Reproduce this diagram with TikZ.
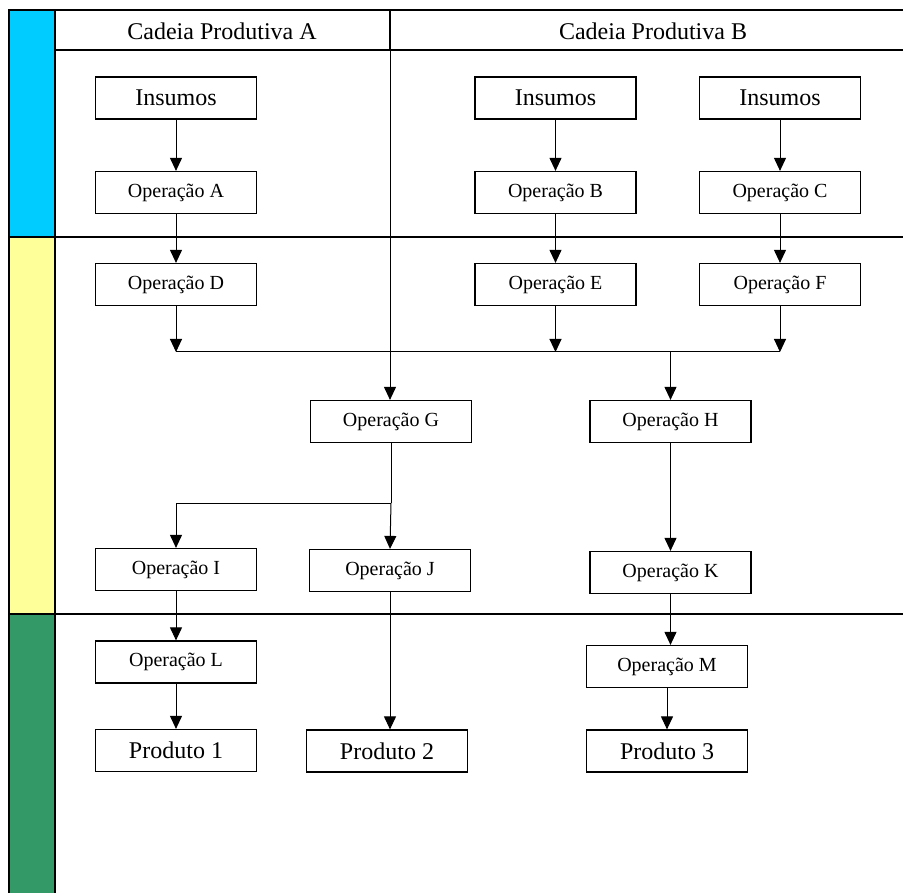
\documentclass[tikz,border=0pt]{standalone}
\usepackage{fontspec}
\setmainfont{Liberation Serif}
\usetikzlibrary{arrows.meta}
\definecolor{faseazul}{HTML}{00CCFF}
\definecolor{faseamarela}{HTML}{FFFF99}
\definecolor{faseverde}{HTML}{339966}
\begin{document}
\begin{tikzpicture}[x=1pt,y=-1pt,>={Triangle[length=13pt,width=12pt]},
        caixa/.style={draw, line width=1.2pt, fill=white, minimum width=161pt, minimum height=42pt, inner sep=0pt, font=\fontsize{24}{28}\selectfont},
        oper/.style={caixa, font=\fontsize{20}{24}\selectfont},
        seta/.style={->, line width=1pt}]
        \useasboundingbox (0,0) rectangle (903,893);
        % faixas laterais e grade
        \filldraw[fill=faseazul, line width=1.2pt] (9,10) rectangle (55,237);
        \filldraw[fill=faseamarela, line width=1.2pt] (9,237) rectangle (55,614);
        \filldraw[fill=faseverde, line width=1.2pt] (9,614) rectangle (55,900);
        \draw[line width=1.2pt] (9,10) -- (903,10);
        \draw[line width=1.2pt] (55,50) -- (903,50);
        \draw[line width=1.2pt] (55,237) -- (903,237);
        \draw[line width=1.2pt] (55,614) -- (903,614);
        \draw[line width=1.5pt] (390,10) -- (390,50);
        \node[font=\fontsize{24}{28}\selectfont] (cadA) at (222,31) {Cadeia Produtiva A};
        \node[font=\fontsize{24}{28}\selectfont] (cadB) at (653,31) {Cadeia Produtiva B};
        \coordinate (hdr) at (390,50);
        \coordinate (bus) at (0,352);
        \coordinate (split) at (0,503);

        % caixas
        \node[caixa] (insA) at (176,98) {Insumos};
        \node[caixa] (insB) at (555.5,98) {Insumos};
        \node[caixa] (insC) at (780,98) {Insumos};
        \node[oper] (opA) at (176,192.5) {Operação A};
        \node[oper] (opB) at (555.5,192.5) {Operação B};
        \node[oper] (opC) at (780,192.5) {Operação C};
        \node[oper] (opD) at (176,284.5) {Operação D};
        \node[oper] (opE) at (555.5,284.5) {Operação E};
        \node[oper] (opF) at (780,284.5) {Operação F};
        \node[oper] (opG) at (391,421.5) {Operação G};
        \node[oper] (opH) at (670.5,421.5) {Operação H};
        \node[oper] (opI) at (176,569.5) {Operação I};
        \node[oper] (opJ) at (390,570.5) {Operação J};
        \node[oper] (opK) at (670.5,572.5) {Operação K};
        \node[oper] (opL) at (176,662) {Operação L};
        \node[oper] (opM) at (667,666.5) {Operação M};
        \node[caixa] (prod1) at (176,750.5) {Produto 1};
        \node[caixa] (prod2) at (387,751) {Produto 2};
        \node[caixa] (prod3) at (667,751) {Produto 3};

        % ligacoes
        \draw[seta] (insA) -- (opA);
        \draw[seta] (insB) -- (opB);
        \draw[seta] (insC) -- (opC);
        \draw[seta] (opA) -- (opD);
        \draw[seta] (opB) -- (opE);
        \draw[seta] (opC) -- (opF);
        \draw[seta] (opD.south) -- (opD.south |- bus);
        \draw[seta] (opE.south) -- (opE.south |- bus);
        \draw[seta] (opF.south) -- (opF.south |- bus);
        \draw[line width=1pt] (opD.south |- bus) -- (opF.south |- bus);
        \draw[seta] (opH.north |- bus) -- (opH.north);
        \draw[seta] (hdr) -- (hdr |- opG.north);
        \draw[line width=1pt] (opG.south) -- (opG.south |- split);
        \draw[seta] (opG.south |- split) -| (opI.north);
        \draw[seta] (opG.south |- split) -- (opJ.north);
        \draw[seta] (opH) -- (opK);
        \draw[seta] (opI) -- (opL);
        \draw[seta] (opK.south) -- (opK.south |- opM.north);
        \draw[seta] (opL) -- (prod1);
        \draw[seta] (opJ.south) -- (opJ.south |- prod2.north);
        \draw[seta] (opM) -- (prod3);

    \end{tikzpicture}
\end{document}
